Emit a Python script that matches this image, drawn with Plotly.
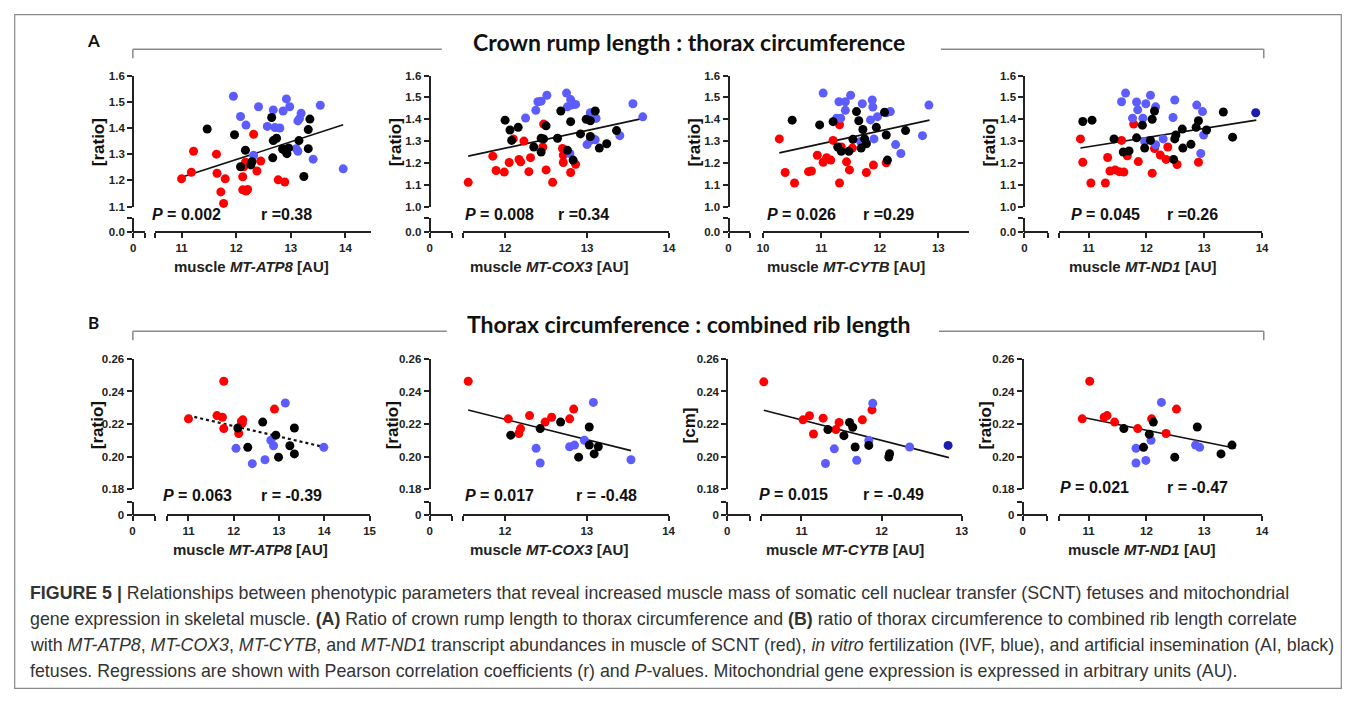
import plotly.graph_objects as go

# page is 1357x703; the browser keeps an 8px body margin, so the figure itself is 16px smaller
PAGE_W, PAGE_H = 1357, 703
MARGIN = 8
W, H = PAGE_W - 2 * MARGIN, PAGE_H - 2 * MARGIN

# ---------------- DATA ----------------
# Panel A1: MT-ATP8 vs crown rump length : thorax circumference
a1_scnt_x = [11.0, 11.22, 11.18, 11.64, 11.65, 11.80, 11.72, 11.77, 12.32, 12.12, 12.17, 12.14, 12.12, 12.18, 12.21, 12.38, 12.45, 12.77, 12.89]
a1_scnt_y = [1.206, 1.311, 1.231, 1.300, 1.227, 1.206, 1.156, 1.112, 1.376, 1.214, 1.269, 1.252, 1.164, 1.159, 1.165, 1.236, 1.274, 1.202, 1.194]
a1_ivf_x = [11.95, 12.08, 12.18, 12.41, 12.57, 12.68, 12.71, 12.80, 12.86, 12.92, 12.98, 13.19, 13.13, 13.16, 13.10, 13.13, 12.32, 13.54, 13.41, 13.96]
a1_ivf_y = [1.521, 1.444, 1.411, 1.481, 1.406, 1.469, 1.402, 1.400, 1.465, 1.511, 1.481, 1.456, 1.427, 1.436, 1.321, 1.311, 1.296, 1.487, 1.281, 1.244]
a1_ai_x = [11.47, 11.97, 12.17, 12.08, 12.27, 12.29, 12.65, 12.67, 12.68, 12.74, 12.89, 12.93, 12.96, 13.15, 13.32, 13.35, 13.32, 13.24, 12.85]
a1_ai_y = [1.396, 1.374, 1.315, 1.252, 1.259, 1.271, 1.440, 1.286, 1.352, 1.361, 1.315, 1.302, 1.324, 1.352, 1.321, 1.434, 1.394, 1.215, 1.320]
a1_fit_x = [11.0, 13.96]
a1_fit_y = [1.212, 1.412]

# Panel A2: MT-COX3
a2_scnt_x = [11.55, 11.85, 11.89, 11.99, 12.05, 12.10, 12.17, 12.19, 12.23, 12.29, 12.31, 12.46, 12.47, 12.50, 12.58, 12.70, 12.71, 12.71, 12.80, 12.86]
a2_scnt_y = [1.111, 1.231, 1.165, 1.158, 1.202, 1.310, 1.216, 1.205, 1.300, 1.160, 1.224, 1.273, 1.378, 1.168, 1.111, 1.266, 1.236, 1.202, 1.156, 1.194]
a2_ivf_x = [12.25, 12.375, 12.40, 12.44, 12.51, 12.75, 12.81, 12.80, 12.86, 12.76, 12.79, 13.04, 13.11, 13.00, 13.04, 13.08, 13.10, 13.40, 13.56, 13.68]
a2_ivf_y = [1.406, 1.441, 1.480, 1.483, 1.510, 1.520, 1.465, 1.490, 1.468, 1.457, 1.243, 1.430, 1.404, 1.284, 1.303, 1.310, 1.306, 1.325, 1.471, 1.411]
a2_ai_x = [12.0, 12.06, 12.16, 12.08, 12.35, 12.44, 12.44, 12.47, 12.50, 12.64, 12.68, 12.80, 12.76, 12.83, 12.92, 12.99, 13.04, 13.10, 13.04, 13.15, 13.24, 13.36]
a2_ai_y = [1.396, 1.351, 1.363, 1.303, 1.273, 1.250, 1.313, 1.310, 1.370, 1.313, 1.438, 1.389, 1.258, 1.213, 1.333, 1.400, 1.393, 1.438, 1.321, 1.268, 1.288, 1.348]
a2_fit_x = [11.55, 13.67]
a2_fit_y = [1.231, 1.403]

# Panel A3: MT-CYTB
a3_scnt_x = [10.28, 10.38, 10.54, 10.78, 10.83, 10.93, 11.03, 11.09, 11.16, 11.20, 11.31, 11.34, 11.43, 11.48, 11.53, 11.31, 11.77, 11.89, 12.11]
a3_scnt_y = [1.310, 1.156, 1.108, 1.160, 1.163, 1.235, 1.203, 1.224, 1.213, 1.303, 1.108, 1.273, 1.205, 1.168, 1.268, 1.375, 1.156, 1.190, 1.201]
a3_ivf_x = [11.03, 11.30, 11.41, 11.50, 11.41, 11.26, 11.33, 11.70, 11.87, 11.88, 11.84, 11.96, 12.11, 12.18, 11.67, 11.90, 12.27, 12.36, 12.73, 12.84]
a3_ivf_y = [1.520, 1.480, 1.480, 1.510, 1.441, 1.405, 1.405, 1.471, 1.488, 1.456, 1.397, 1.412, 1.430, 1.435, 1.298, 1.310, 1.284, 1.243, 1.325, 1.465]
a3_ai_x = [10.50, 10.97, 11.20, 11.28, 11.34, 11.47, 11.54, 11.60, 11.64, 11.68, 11.71, 11.74, 11.77, 11.94, 12.11, 12.08, 12.13, 12.44]
a3_ai_y = [1.396, 1.374, 1.389, 1.273, 1.253, 1.253, 1.308, 1.435, 1.393, 1.268, 1.353, 1.310, 1.288, 1.363, 1.328, 1.432, 1.213, 1.348]
a3_fit_x = [10.28, 12.85]
a3_fit_y = [1.246, 1.396]

# Panel A4: MT-ND1
a4_scnt_x = [10.86, 10.90, 11.04, 11.29, 11.33, 11.37, 11.46, 11.53, 11.61, 11.57, 11.67, 11.78, 11.86, 12.10, 12.14, 12.24, 12.34, 12.37, 12.53, 12.90]
a4_scnt_y = [1.310, 1.203, 1.108, 1.108, 1.225, 1.163, 1.168, 1.160, 1.158, 1.303, 1.233, 1.378, 1.206, 1.153, 1.266, 1.236, 1.216, 1.273, 1.193, 1.203]
a4_ivf_x = [11.57, 11.64, 11.76, 11.83, 11.85, 11.94, 11.99, 12.07, 12.16, 12.16, 12.29, 11.97, 12.46, 12.49, 12.87, 12.97, 12.99, 12.94]
a4_ivf_y = [1.480, 1.520, 1.405, 1.479, 1.443, 1.405, 1.471, 1.510, 1.457, 1.283, 1.310, 1.298, 1.408, 1.488, 1.465, 1.435, 1.328, 1.243]
a4_ivf_dark_x = [13.89]
a4_ivf_dark_y = [1.430]
a4_ai_x = [10.90, 11.06, 11.44, 11.60, 11.70, 11.83, 11.93, 11.97, 12.07, 12.10, 12.14, 12.47, 12.49, 12.51, 12.62, 12.63, 12.77, 12.86, 12.90, 13.04, 13.33, 13.49]
a4_ai_y = [1.390, 1.396, 1.310, 1.250, 1.255, 1.315, 1.373, 1.268, 1.303, 1.400, 1.438, 1.216, 1.310, 1.328, 1.355, 1.268, 1.285, 1.363, 1.393, 1.351, 1.433, 1.318]
a4_fit_x = [10.86, 13.90]
a4_fit_y = [1.268, 1.396]

# Panel B1: MT-ATP8 vs thorax circumference : combined rib length
b1_scnt_x = [11.0, 11.63, 11.75, 11.78, 11.78, 12.11, 12.19, 12.20, 12.90, 12.17]
b1_scnt_y = [0.2232, 0.2252, 0.2242, 0.2463, 0.2172, 0.2142, 0.2206, 0.2226, 0.2292, 0.2216]
b1_ivf_x = [12.05, 12.41, 12.69, 12.82, 12.88, 13.14, 13.99]
b1_ivf_y = [0.2051, 0.1957, 0.1981, 0.2101, 0.2067, 0.2329, 0.2057]
b1_ai_x = [12.09, 12.31, 12.64, 12.93, 12.99, 13.24, 13.34, 13.34]
b1_ai_y = [0.2176, 0.2057, 0.2212, 0.2132, 0.1997, 0.2067, 0.2176, 0.2017]
b1_fit_x = [11.0, 14.03]
b1_fit_y = [0.2252, 0.2057]

# Panel B2: MT-COX3
b2_scnt_x = [11.55, 12.04, 12.17, 12.19, 12.30, 12.49, 12.57, 12.79, 12.84]
b2_scnt_y = [0.2463, 0.2232, 0.2142, 0.2172, 0.2252, 0.2212, 0.2242, 0.2232, 0.2292]
b2_ivf_x = [12.38, 12.43, 12.79, 12.85, 12.97, 13.08, 13.54]
b2_ivf_y = [0.2051, 0.1961, 0.2061, 0.2071, 0.2101, 0.2333, 0.1981]
b2_ai_x = [12.07, 12.43, 12.68, 12.90, 13.03, 13.03, 13.09, 13.14]
b2_ai_y = [0.2132, 0.2172, 0.2212, 0.1997, 0.2182, 0.2071, 0.2017, 0.2061]
b2_fit_x = [11.55, 13.54]
b2_fit_y = [0.2286, 0.2037]

# Panel B3: MT-CYTB
b3_scnt_x = [10.53, 11.02, 11.10, 11.15, 11.27, 11.43, 11.47, 11.76, 11.88]
b3_scnt_y = [0.2459, 0.2226, 0.2251, 0.2139, 0.2236, 0.2166, 0.2210, 0.2226, 0.2287]
b3_ivf_x = [11.30, 11.41, 11.69, 11.84, 11.89, 12.35]
b3_ivf_y = [0.1958, 0.2048, 0.1978, 0.2099, 0.2327, 0.2059]
b3_ivf_dark_x = [12.83]
b3_ivf_dark_y = [0.2069]
b3_ai_x = [11.33, 11.53, 11.60, 11.64, 11.67, 11.84, 12.09, 12.10]
b3_ai_y = [0.2166, 0.2129, 0.2210, 0.2180, 0.2059, 0.2069, 0.1998, 0.2018]
b3_fit_x = [10.53, 12.84]
b3_fit_y = [0.2285, 0.1994]

# Panel B4: MT-ND1
b4_scnt_x = [10.89, 11.02, 11.27, 11.32, 11.45, 11.85, 12.09, 12.34, 12.52]
b4_scnt_y = [0.2232, 0.2463, 0.2242, 0.2252, 0.2212, 0.2172, 0.2232, 0.2142, 0.2292]
b4_ivf_x = [11.82, 11.82, 11.99, 12.08, 12.26, 12.85, 12.92]
b4_ivf_y = [0.2051, 0.1961, 0.1977, 0.2101, 0.2333, 0.2071, 0.2057]
b4_ai_x = [11.61, 11.95, 12.05, 12.12, 12.49, 12.88, 13.29, 13.48]
b4_ai_y = [0.2172, 0.2057, 0.2138, 0.2212, 0.1997, 0.2182, 0.2017, 0.2071]
b4_fit_x = [10.89, 13.54]
b4_fit_y = [0.2242, 0.2051]

# statistics text
p_values = ["0.002", "0.008", "0.026", "0.045", "0.063", "0.017", "0.015", "0.021"]
r_values = ["0.38", "0.34", "0.29", "0.26", "-0.39", "-0.48", "-0.49", "-0.47"]
genes = ["MT-ATP8", "MT-COX3", "MT-CYTB", "MT-ND1", "MT-ATP8", "MT-COX3", "MT-CYTB", "MT-ND1"]
y_titles = ["[ratio]", "[ratio]", "[ratio]", "[ratio]", "[ratio]", "[ratio]", "[cm]", "[ratio]"]
title_a = "Crown rump length : thorax circumference"
title_b = "Thorax circumference : combined rib length"

# ---------------- LAYOUT HELPERS (page pixel -> paper fraction) ----------------
def fx(p):
    return (p - MARGIN) / W

def fy(p):
    return 1 - (p - MARGIN) / H

RED = "#ff0000"
BLUE = "#5c5cff"
DARKBLUE = "#1c1cb0"
BLACK = "#000000"
AX = "#222222"
SANS = "Liberation Sans, Arial, sans-serif"
TICKFONT = dict(family=SANS, size=11.5, color=AX, weight="bold")

A_ROW = dict(ytop=70.7, ybot=204.0, base=229.7, lowtop=215.7, yfmt=".1f", low="0.0")
B_ROW = dict(ytop=359.0, ybot=491.7, base=518.0, lowtop=504.3, yfmt=".2f", low="0")

panels = [
    dict(row=A_ROW, yx=128.3, xs_end=140.0, xm=(150.7, 368.0), xr=(10.52, 14.46), xt=[11, 12, 13, 14],
         yr=(1.1, 1.6), yt=[1.1, 1.2, 1.3, 1.4, 1.5, 1.6], ytitle_x=93, xtitle_x=248, p_x=145, r_x=255, stat_y=211.7,
         data=[(a1_scnt_x, a1_scnt_y, RED), (a1_ivf_x, a1_ivf_y, BLUE), (a1_ai_x, a1_ai_y, BLACK)],
         fit=(a1_fit_x, a1_fit_y, "solid")),
    dict(row=A_ROW, yx=427.7, xs_end=450.7, xm=(461.7, 669.4), xr=(11.49, 14.0), xt=[12, 13, 14],
         yr=(1.0, 1.6), yt=[1.0, 1.1, 1.2, 1.3, 1.4, 1.5, 1.6], ytitle_x=393, xtitle_x=548, p_x=461.7, r_x=555, stat_y=211.7,
         data=[(a2_scnt_x, a2_scnt_y, RED), (a2_ivf_x, a2_ivf_y, BLUE), (a2_ai_x, a2_ai_y, BLACK)],
         fit=(a2_fit_x, a2_fit_y, "solid")),
    dict(row=A_ROW, yx=729.5, xs_end=751.7, xm=(764.3, 972.0), xr=(10.0, 13.52), xt=[10, 11, 12, 13],
         yr=(1.0, 1.6), yt=[1.0, 1.1, 1.2, 1.3, 1.4, 1.5, 1.6], ytitle_x=695, xtitle_x=848, p_x=766.7, r_x=863.3, stat_y=211.7,
         data=[(a3_scnt_x, a3_scnt_y, RED), (a3_ivf_x, a3_ivf_y, BLUE), (a3_ai_x, a3_ai_y, BLACK)],
         fit=(a3_fit_x, a3_fit_y, "solid")),
    dict(row=A_ROW, yx=1028.3, xs_end=1051.7, xm=(1063.3, 1268.3), xr=(10.49, 14.0), xt=[11, 12, 13, 14],
         yr=(1.0, 1.6), yt=[1.0, 1.1, 1.2, 1.3, 1.4, 1.5, 1.6], ytitle_x=993, xtitle_x=1148, p_x=1073.3, r_x=1170, stat_y=211.7,
         data=[(a4_scnt_x, a4_scnt_y, RED), (a4_ivf_x, a4_ivf_y, BLUE), (a4_ivf_dark_x, a4_ivf_dark_y, DARKBLUE),
               (a4_ai_x, a4_ai_y, BLACK)],
         fit=(a4_fit_x, a4_fit_y, "solid")),
    dict(row=B_ROW, yx=127.7, xs_end=150.0, xm=(162.7, 367.0), xr=(10.53, 15.0), xt=[11, 12, 13, 14, 15],
         yr=(0.18, 0.26), yt=[0.18, 0.20, 0.22, 0.24, 0.26], ytitle_x=92, xtitle_x=247, p_x=156.7, r_x=255, stat_y=497.7,
         data=[(b1_scnt_x, b1_scnt_y, RED), (b1_ivf_x, b1_ivf_y, BLUE), (b1_ai_x, b1_ai_y, BLACK)],
         fit=(b1_fit_x, b1_fit_y, "dot")),
    dict(row=B_ROW, yx=427.7, xs_end=450.7, xm=(461.7, 669.0), xr=(11.49, 14.0), xt=[12, 13, 14],
         yr=(0.18, 0.26), yt=[0.18, 0.20, 0.22, 0.24, 0.26], ytitle_x=390, xtitle_x=548, p_x=461.7, r_x=573.3, stat_y=497.7,
         data=[(b2_scnt_x, b2_scnt_y, RED), (b2_ivf_x, b2_ivf_y, BLUE), (b2_ai_x, b2_ai_y, BLACK)],
         fit=(b2_fit_x, b2_fit_y, "solid")),
    dict(row=B_ROW, yx=728.3, xs_end=751.7, xm=(762.7, 965.0), xr=(10.5, 13.0), xt=[11, 12, 13],
         yr=(0.18, 0.26), yt=[0.18, 0.20, 0.22, 0.24, 0.26], ytitle_x=690, xtitle_x=847, p_x=758.3, r_x=863.3, stat_y=496.7,
         data=[(b3_scnt_x, b3_scnt_y, RED), (b3_ivf_x, b3_ivf_y, BLUE), (b3_ivf_dark_x, b3_ivf_dark_y, DARKBLUE),
               (b3_ai_x, b3_ai_y, BLACK)],
         fit=(b3_fit_x, b3_fit_y, "solid")),
    dict(row=B_ROW, yx=1026.7, xs_end=1051.0, xm=(1063.3, 1268.3), xr=(10.49, 14.0), xt=[11, 12, 13, 14],
         yr=(0.18, 0.26), yt=[0.18, 0.20, 0.22, 0.24, 0.26], ytitle_x=989, xtitle_x=1147, p_x=1062.3, r_x=1170, stat_y=490.0,
         data=[(b4_scnt_x, b4_scnt_y, RED), (b4_ivf_x, b4_ivf_y, BLUE), (b4_ai_x, b4_ai_y, BLACK)],
         fit=(b4_fit_x, b4_fit_y, "solid")),
]

fig = go.Figure()
layout = {}
annotations = []
shapes = []

axis_common = dict(showgrid=False, zeroline=False, showline=True, linecolor=AX, linewidth=2,
                   ticks="outside", ticklen=5, tickwidth=2, tickcolor=AX, tickfont=TICKFONT,
                   fixedrange=True, autorange=False)


def note(x, y, text, size, xanchor="center", yanchor="middle", angle=0, family=SANS, color="#111"):
    annotations.append(dict(x=fx(x), y=fy(y), xref="paper", yref="paper", text=text, showarrow=False,
                            xanchor=xanchor, yanchor=yanchor, textangle=angle,
                            font=dict(family=family, size=size, color=color)))


for i, p in enumerate(panels):
    row = p["row"]
    n_main = 2 * i + 1
    n_short = 2 * i + 2
    xm_id, xs_id = f"x{n_main}", f"x{n_short}"
    ym_id, ys_id = f"y{n_main}", f"y{n_short}"
    xm_key = "xaxis" if n_main == 1 else f"xaxis{n_main}"
    ym_key = "yaxis" if n_main == 1 else f"yaxis{n_main}"

    start = p["xr"][0]
    tv = list(p["xt"])
    tt = [str(v) for v in p["xt"]]
    if start not in tv:
        tv = [start] + tv
        tt = [""] + tt
    layout[xm_key] = dict(axis_common, domain=[fx(p["xm"][0]), fx(p["xm"][1])], range=list(p["xr"]),
                          anchor="free", position=fy(row["base"]), tickvals=tv, ticktext=tt)
    layout[ym_key] = dict(axis_common, domain=[fy(row["ybot"]), fy(row["ytop"])], range=list(p["yr"]),
                          anchor="free", position=fx(p["yx"]), tickvals=p["yt"], tickformat=row["yfmt"])
    layout[f"xaxis{n_short}"] = dict(axis_common, domain=[fx(p["yx"]), fx(p["xs_end"])], range=[0, 1],
                                     anchor="free", position=fy(row["base"]), tickvals=[0, 1], ticktext=["0", ""])
    layout[f"yaxis{n_short}"] = dict(axis_common, domain=[fy(row["base"]), fy(row["lowtop"])], range=[0, 1],
                                     anchor="free", position=fx(p["yx"]), tickvals=[0, 1],
                                     ticktext=[row["low"], ""])

    fig.add_trace(go.Scatter(x=[None], y=[None], xaxis=xs_id, yaxis=ys_id, mode="markers",
                             showlegend=False, hoverinfo="skip"))

    fit_x, fit_y, dash = p["fit"]
    fig.add_trace(go.Scatter(x=fit_x, y=fit_y, xaxis=xm_id, yaxis=ym_id, mode="lines",
                             line=dict(color="#111111", width=1.6 if dash == "solid" else 2.2, dash=dash),
                             showlegend=False, hoverinfo="skip"))
    for xs, ys, col in p["data"]:
        fig.add_trace(go.Scatter(x=xs, y=ys, xaxis=xm_id, yaxis=ym_id, mode="markers",
                                 marker=dict(color=col, size=9, line=dict(width=0)),
                                 showlegend=False, cliponaxis=False))

    note(p["ytitle_x"], (row["ytop"] + row["ybot"]) / 2 + 1, f"<b>{y_titles[i]}</b>", 17, angle=-90)
    note(p["xtitle_x"], row["base"] + 35, f"<b>muscle <i>{genes[i]}</i> [AU]</b>", 15, color="#222")
    note(p["p_x"], p["stat_y"], f"<b><i>P</i> = {p_values[i]}</b>", 16, xanchor="left")
    rtxt = f"r ={r_values[i]}" if i < 4 else f"r = {r_values[i]}"
    note(p["r_x"], p["stat_y"], f"<b>{rtxt}</b>", 16, xanchor="left")

# section headers
HEAD = "Lato, Open Sans, sans-serif"
for letter, title, ly, lx_end, rx_start in [("A", title_a, 44, 440, 944), ("B", title_b, 331, 445, 942)]:
    note(88, ly - 9, f"<b>{letter}</b>", 17, family=HEAD)
    note(690, ly - 7, f"<b>{title}</b>", 23, family=HEAD)
    lc = dict(color="#8a8a8a", width=1.5)
    shapes += [
        dict(type="line", xref="paper", yref="paper", x0=fx(128), x1=fx(lx_end), y0=fy(ly), y1=fy(ly), line=lc),
        dict(type="line", xref="paper", yref="paper", x0=fx(128), x1=fx(128), y0=fy(ly), y1=fy(ly + 9), line=lc),
        dict(type="line", xref="paper", yref="paper", x0=fx(rx_start), x1=fx(1270), y0=fy(ly), y1=fy(ly), line=lc),
        dict(type="line", xref="paper", yref="paper", x0=fx(1270), x1=fx(1270), y0=fy(ly), y1=fy(ly + 9), line=lc),
    ]

# outer frame (kept just inside the drawable area)
shapes.append(dict(type="rect", xref="paper", yref="paper", x0=fx(8.7), x1=fx(1348.3), y0=fy(8.7), y1=fy(694.3),
                   line=dict(color="#8a8a8a", width=1.2)))

# caption
caption_lines = [
    "<b>FIGURE 5 |</b> Relationships between phenotypic parameters that reveal increased muscle mass of somatic cell nuclear transfer (SCNT) fetuses and mitochondrial",
    "gene expression in skeletal muscle. <b>(A)</b> Ratio of crown rump length to thorax circumference and <b>(B)</b> ratio of thorax circumference to combined rib length correlate",
    "with <i>MT-ATP8</i>, <i>MT-COX3</i>, <i>MT-CYTB</i>, and <i>MT-ND1</i> transcript abundances in muscle of SCNT (red), <i>in vitro</i> fertilization (IVF, blue), and artificial insemination (AI, black)",
    "fetuses. Regressions are shown with Pearson correlation coefficients (r) and <i>P</i>-values. Mitochondrial gene expression is expressed in arbitrary units (AU).",
]
for k, line in enumerate(caption_lines):
    note(22, 597 + 26.5 * k, line, 17.8, xanchor="left", family="Liberation Sans Narrow, Arial Narrow, sans-serif",
         color="#333")

fig.update_layout(width=W, height=H, margin=dict(l=0, r=0, t=0, b=0), plot_bgcolor="white",
                  paper_bgcolor="white", showlegend=False, annotations=annotations, shapes=shapes, **layout)

fig.write_html("out.html", config={"displayModeBar": False})
